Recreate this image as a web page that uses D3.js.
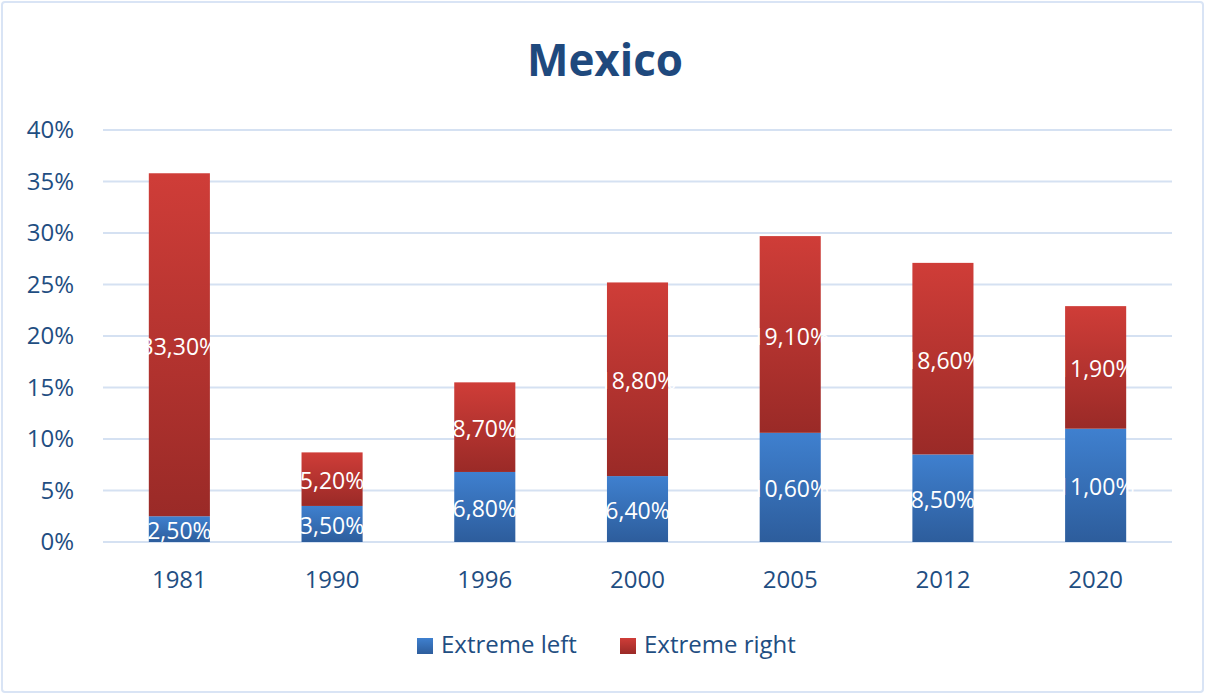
<!DOCTYPE html>
<html><head><meta charset="utf-8">
<script src="https://cdn.jsdelivr.net/npm/d3@7"></script>
<style>body{margin:0;background:#fff}svg{display:block}text{font-family:"Open Sans",sans-serif}</style>
</head><body><svg id="c" width="1206" height="695"></svg>
<script>
const years = ["1981","1990","1996","2000","2005","2012","2020"];
const extremeLeft = [2.5,3.5,6.8,6.4,10.6,8.5,11.0];
const extremeRight = [33.3,5.2,8.7,18.8,19.1,18.6,11.9];
const yTicks = [0,5,10,15,20,25,30,35,40];
const seriesNames = ["Extreme left","Extreme right"];

const svg = d3.select("#c");
const W=1206,H=695;
const axisColor="#1f4e82";
svg.append("rect").attr("x",2).attr("y",2).attr("width",W-5).attr("height",H-5).attr("rx",3)
  .attr("fill","#fff").attr("stroke","#d9e4f5").attr("stroke-width",2);

const defs=svg.append("defs");
function grad(id,top,bot){const g=defs.append("linearGradient").attr("id",id).attr("x1",0).attr("y1",0).attr("x2",0).attr("y2",1);
 g.append("stop").attr("offset","0%").attr("stop-color",top);g.append("stop").attr("offset","100%").attr("stop-color",bot);}
grad("gb","#3f80cf","#2d5d9c");
grad("gr","#cf3d38","#9a2a27");

const x=d3.scaleBand().domain(years).range([103,1172]).paddingInner(0.6).paddingOuter(0.3);
const y=d3.scaleLinear().domain([0,40]).range([542,130]);

svg.append("text").attr("x",605).attr("y",76).attr("text-anchor","middle")
  .attr("font-size",44).attr("font-weight","bold").attr("fill","#1f497d").text("Mexico");

const g=svg.append("g");
g.selectAll("line.grid").data(yTicks).join("line").attr("class","grid")
  .attr("x1",103).attr("x2",1172).attr("y1",d=>y(d)).attr("y2",d=>y(d))
  .attr("stroke","#d5e1f2").attr("stroke-width",2);
g.selectAll("text.yt").data(yTicks).join("text").attr("class","yt")
  .attr("x",74).attr("y",d=>y(d)).attr("dy","0.35em").attr("text-anchor","end")
  .attr("font-size",24).attr("fill",axisColor).text(d=>d+"%");

const stackData=years.map((yr,i)=>({yr,l:extremeLeft[i],r:extremeRight[i]}));
const stack=d3.stack().keys(["l","r"])(stackData);
const fills=["url(#gb)","url(#gr)"];
stack.forEach((s,k)=>{
  g.selectAll("rect.s"+k).data(s).join("rect").attr("class","s"+k)
   .attr("x",d=>x(d.data.yr)).attr("width",x.bandwidth())
   .attr("y",d=>y(d[1])).attr("height",d=>y(d[0])-y(d[1]))
   .attr("fill",fills[k]);
});
const fmt=v=>v.toFixed(2).replace(".",",")+"%";
stack.forEach((s,k)=>{
  g.selectAll("text.l"+k).data(s).join("text").attr("class","l"+k)
   .attr("x",d=>x(d.data.yr)+x.bandwidth()/2).attr("y",d=>y((d[0]+d[1])/2)+2)
   .attr("dy","0.35em").attr("text-anchor","middle").attr("font-size",23).attr("fill","#fff")
   .text(d=>fmt(d[1]-d[0]));
});
g.selectAll("text.xt").data(years).join("text").attr("class","xt")
  .attr("x",d=>x(d)+x.bandwidth()/2).attr("y",580).attr("dy","0.35em").attr("text-anchor","middle")
  .attr("font-size",24).attr("fill",axisColor).text(d=>d);

const leg=[{n:seriesNames[0],f:fills[0],x:417},{n:seriesNames[1],f:fills[1],x:620}];
leg.forEach(d=>{
  svg.append("rect").attr("x",d.x).attr("y",638).attr("width",16).attr("height",16).attr("fill",d.f);
  svg.append("text").attr("x",d.x+24).attr("y",645).attr("dy","0.35em").attr("font-size",24).attr("fill",axisColor).text(d.n);
});
</script></body></html>
